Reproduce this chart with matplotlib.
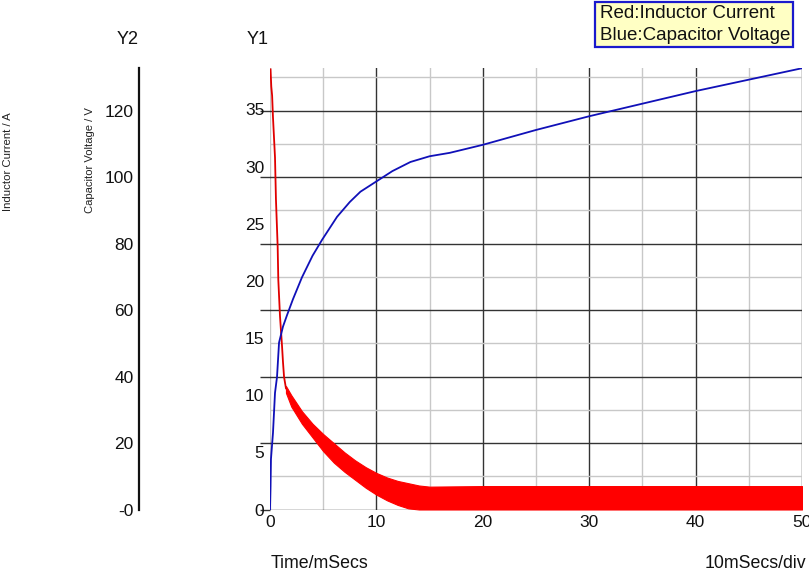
import matplotlib
matplotlib.use("Agg")
import matplotlib.pyplot as plt
from matplotlib.ticker import MultipleLocator
from matplotlib.patches import Rectangle

plt.rcParams['font.family'] = ['Liberation Sans', 'DejaVu Sans']

# ---- data (Y1 units) ----
cap_t = [0, 0.05, 0.09, 0.28, 0.47, 0.66, 0.85, 1.22, 1.6, 2.16, 3.0, 4.0, 4.9, 6.3, 7.5,
         8.5, 10.0, 11.5, 13.2, 15.0, 16.9, 20, 25, 30, 35, 40, 45, 50]
cap_v = [0, 2.0, 4.4, 6.7, 10.2, 11.6, 14.6, 16.0, 17.0, 18.4, 20.3, 22.2, 23.6, 25.6, 26.9,
         27.8, 28.7, 29.6, 30.4, 30.9, 31.2, 31.9, 33.2, 34.4, 35.5, 36.6, 37.6, 38.6]

ind_t = [0.05, 0.12, 0.2, 0.28, 0.47, 0.56, 0.72, 0.78, 0.94, 1.13, 1.22, 1.32, 1.5]
ind_i = [38.5, 37.0, 36.2, 34.3, 30.8, 27.1, 23.0, 20.1, 16.9, 14.3, 12.9, 11.6, 10.6]

ripple_t = [1.5, 2, 3, 4, 5, 6, 7, 8, 9, 10, 11, 12, 13, 14, 15, 20, 30, 40, 50]
ripple_hi = [10.8, 10.0, 8.6, 7.5, 6.6, 5.8, 5.0, 4.3, 3.7, 3.2, 2.8, 2.5, 2.3, 2.1, 2.0,
             2.05, 2.05, 2.05, 2.05]
ripple_lo = [10.2, 9.0, 7.5, 6.3, 5.1, 4.1, 3.3, 2.6, 1.9, 1.3, 0.8, 0.4, 0.1, 0, 0,
             0, 0, 0, 0]

y1_ticks = [0, 5, 10, 15, 20, 25, 30, 35]
y2_ticks = [0, 20, 40, 60, 80, 100, 120]
y2_labels = ['-0', '20', '40', '60', '80', '100', '120']
x_ticks = [0, 10, 20, 30, 40, 50]

W, H = 809, 574
fig = plt.figure(figsize=(W / 100, H / 100), dpi=100)

L, R, B, T = 270, 802, 509.5, 68
rect = [L / W, (H - B) / H, (R - L) / W, (B - T) / H]
Y2_TOP = 132.8
Y1_TOP = 38.62

dark = '#333333'
light = '#c8c8c8'
tfs = 12.5

# grid axes (Y2 units)
ax = fig.add_axes(rect)
ax.set_xlim(0, 50)
ax.set_ylim(0, Y2_TOP)
ax.xaxis.set_major_locator(MultipleLocator(10))
ax.xaxis.set_minor_locator(MultipleLocator(5))
ax.set_yticks(y2_ticks)
ax.yaxis.set_minor_locator(MultipleLocator(10))
ax.grid(which='major', color=dark, linewidth=1.0)
ax.grid(which='minor', color=light, linewidth=1.0)
for s in ax.spines.values():
    s.set_visible(False)
ax.tick_params(axis='y', which='major', length=7, color=dark, width=1.0, labelleft=False)
ax.tick_params(axis='y', which='minor', length=0)
ax.tick_params(axis='x', which='both', length=0)
ax.set_xticks(x_ticks)
ax.set_xticklabels([str(v) for v in x_ticks], fontsize=tfs, color='#111111')
ax.tick_params(axis='x', pad=4)
ax.xaxis.get_major_ticks()[0].gridline.set_color(light)
ax.set_axisbelow(True)

# data axes (Y1 units)
ax1 = ax.twinx()
ax1.set_ylim(0, Y1_TOP)
ax1.set_xlim(0, 50)
for s in ax1.spines.values():
    s.set_visible(False)
ax1.yaxis.set_ticks_position('left')
ax1.yaxis.set_label_position('left')
ax1.set_yticks(y1_ticks)
ax1.set_yticklabels([str(v) for v in y1_ticks], fontsize=tfs, color='#111111')
ax1.tick_params(axis='y', length=0, pad=4)

ax1.fill_between(ripple_t, ripple_lo, ripple_hi, color='#ff0000', linewidth=0.8,
                 edgecolor='#ff0000', zorder=2)
ax1.plot(ind_t, ind_i, color='#e00000', linewidth=1.3, zorder=3, solid_joinstyle='miter')
ax1.plot(cap_t, cap_v, color='#1010b8', linewidth=1.3, zorder=4)

# separate Y2 axis
ay2 = fig.add_axes([139 / W, (H - B) / H, 0.0001, (B - T) / H])
ay2.set_ylim(0, Y2_TOP)
ay2.set_xticks([])
for k in ['right', 'top', 'bottom']:
    ay2.spines[k].set_visible(False)
ay2.spines['left'].set_linewidth(1.6)
ay2.spines['left'].set_color('#111111')
ay2.patch.set_visible(False)
ay2.set_yticks(y2_ticks)
ay2.set_yticklabels(y2_labels, fontsize=tfs, color='#111111')
ay2.tick_params(axis='y', length=0, pad=4)

# texts
def px(x, y):
    return x / W, 1 - y / H

fig.text(*px(128, 40), 'Y2', fontsize=13, ha='center', va='center', color='#111111')
fig.text(*px(258, 40), 'Y1', fontsize=13, ha='center', va='center', color='#111111')
fig.text(*px(8, 162), 'Inductor Current / A', fontsize=8.2, rotation=90,
         ha='center', va='center', color='#222222')
fig.text(*px(90, 160), 'Capacitor Voltage / V', fontsize=8.1, rotation=90,
         ha='center', va='center', color='#222222')
fig.text(*px(271, 563), 'Time/mSecs', fontsize=12.8, ha='left', va='center', color='#111111')
fig.text(*px(806, 563), '10mSecs/div', fontsize=12.8, ha='right', va='center', color='#111111')

# legend box
bx0, by0, bx1, by1 = 595, 2, 793, 47
fig.patches.append(Rectangle(px(bx0, by1), (bx1 - bx0) / W, (by1 - by0) / H,
                             transform=fig.transFigure, facecolor='#ffffc4',
                             edgecolor='#1a1acc', linewidth=1.6, zorder=5))
fig.text(*px(600, 14), 'Red:Inductor Current', fontsize=13.5, ha='left', va='center',
         color='#111111', zorder=6)
fig.text(*px(600, 36), 'Blue:Capacitor Voltage', fontsize=13.5, ha='left', va='center',
         color='#111111', zorder=6)

fig.savefig('out.png', dpi=100)
